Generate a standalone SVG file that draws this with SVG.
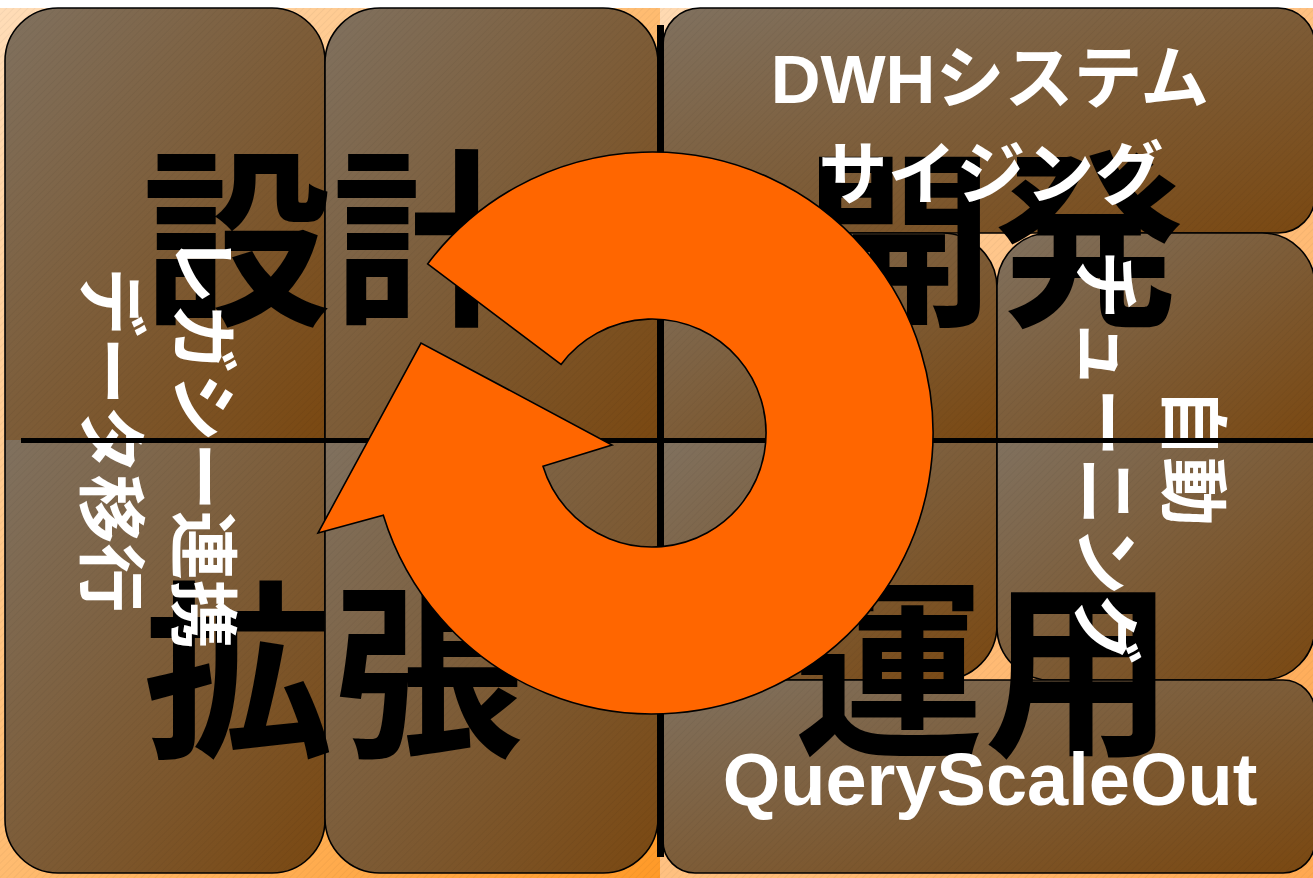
<svg xmlns="http://www.w3.org/2000/svg" width="1313" height="878" viewBox="0 0 1313 878">
<defs>
<style>
.tile{fill:url(#tileGrad);}
.outline{fill:none;stroke:#000;stroke-width:1.6;}
.big{font-family:'Noto Sans CJK JP','Noto Sans CJK SC',sans-serif;font-weight:bold;font-size:190px;fill:#000;text-anchor:middle;}
.wt{font-family:'Liberation Sans','Noto Sans CJK JP',sans-serif;font-weight:bold;font-size:69px;fill:#fff;text-anchor:middle;}
</style>
<linearGradient id="tileGrad" x1="0" y1="0" x2="1" y2="1">
<stop offset="0" stop-color="#80715F"/>
<stop offset="1" stop-color="#7A4811"/>
</linearGradient>
<linearGradient id="bgL" x1="0" y1="0" x2="1" y2="1">
<stop offset="0" stop-color="#FFDDB8"/>
<stop offset="1" stop-color="#FF9A28"/>
</linearGradient>
<linearGradient id="bgR" x1="0" y1="0" x2="1" y2="1">
<stop offset="0" stop-color="#FFDAB2"/>
<stop offset="1" stop-color="#FFA850"/>
</linearGradient>
<pattern id="hatch" width="5" height="5" patternUnits="userSpaceOnUse" patternTransform="rotate(45)">
<line x1="0" y1="0" x2="0" y2="5" stroke="#000" stroke-opacity="0.05" stroke-width="1.5"/>
</pattern>
</defs>

<g id="background">
<rect x="0" y="0" width="1313" height="878" fill="#fff"/>
<rect x="0" y="8" width="660" height="870" fill="url(#bgL)"/>
<rect x="660" y="8" width="653" height="870" fill="url(#bgR)"/>
</g>

<g id="tile-A">
<path class="tile" d="M5,440 V61 A53,53 0 0 1 58,8 H272 A53,53 0 0 1 325,61 V440 Z"/>
<path class="tile" d="M5,440 V820 A53,53 0 0 0 58,873 H272 A53,53 0 0 0 325,820 V440 Z"/>
<rect class="outline" x="5" y="8" width="320" height="865" rx="53"/>
</g>
<g id="tile-B">
<path class="tile" d="M325,440 V63 A55,55 0 0 1 380,8 H603 A55,55 0 0 1 658,63 V440 Z"/>
<path class="tile" d="M325,440 V818 A55,55 0 0 0 380,873 H603 A55,55 0 0 0 658,818 V440 Z"/>
<rect class="outline" x="325" y="8" width="333" height="865" rx="55"/>
</g>
<g id="tile-C">
<rect class="tile" x="663" y="8" width="652" height="225" rx="37"/>
<rect class="outline" x="663" y="8" width="652" height="225" rx="37"/>
</g>
<g id="tile-D">
<path class="tile" d="M663,440 V288 A55,55 0 0 1 718,233 H942 A55,55 0 0 1 997,288 V440 Z"/>
<path class="tile" d="M663,440 V625 A55,55 0 0 0 718,680 H942 A55,55 0 0 0 997,625 V440 Z"/>
<rect class="outline" x="663" y="233" width="334" height="447" rx="55"/>
</g>
<g id="tile-E">
<path class="tile" d="M997,440 V286 A53,53 0 0 1 1050,233 H1262 A53,53 0 0 1 1315,286 V440 Z"/>
<path class="tile" d="M997,440 V627 A53,53 0 0 0 1050,680 H1262 A53,53 0 0 0 1315,627 V440 Z"/>
<rect class="outline" x="997" y="233" width="318" height="447" rx="53"/>
</g>
<g id="tile-F">
<rect class="tile" x="663" y="680" width="652" height="193" rx="32"/>
<rect class="outline" x="663" y="680" width="652" height="193" rx="32"/>
</g>

<rect id="hatching" x="0" y="8" width="1313" height="870" fill="url(#hatch)"/>

<g id="phase-labels">
<text id="label-design" class="big" x="332" y="310">設計</text>
<text id="label-develop" class="big" x="994" y="311">開発</text>
<text id="label-extend" class="big" x="333" y="742">拡張</text>
<text id="label-operate" class="big" x="984" y="741">運用</text>
</g>

<g id="tile-texts">
<g id="text-C">
<text class="wt" x="990" y="103">DWHシステム</text>
<text class="wt" x="991" y="199">サイジング</text>
</g>
<g id="text-A">
<text class="wt" transform="translate(178,442) rotate(90)" x="0" y="0">レガシー連携</text>
<text class="wt" transform="translate(86,440) rotate(90)" x="0" y="0">データ移行</text>
</g>
<g id="text-E">
<text class="wt" transform="translate(1168,457) rotate(90)" x="0" y="0">自動</text>
<text class="wt" transform="translate(1081,457) rotate(90)" x="0" y="0">チューニング</text>
</g>
<g id="text-F">
<text class="wt" x="990" y="805" style="font-size:74px">QueryScaleOut</text>
</g>
</g>

<g id="connectors">
<rect id="cross-h" x="21" y="438" width="1292" height="5" fill="#000"/>
<rect id="cross-v" x="657" y="25" width="7" height="832" fill="#000"/>
<path id="cycle-arrow" d="M427.6,263.9 A281,281 0 1 1 383.3,515.2 L318,533 L421,343 L612,445 L543,466.3 A114,114 0 1 0 561,364.4 Z" fill="#FF6600" stroke="#000" stroke-width="1.6" stroke-linejoin="miter"/>
</g>
</svg>
